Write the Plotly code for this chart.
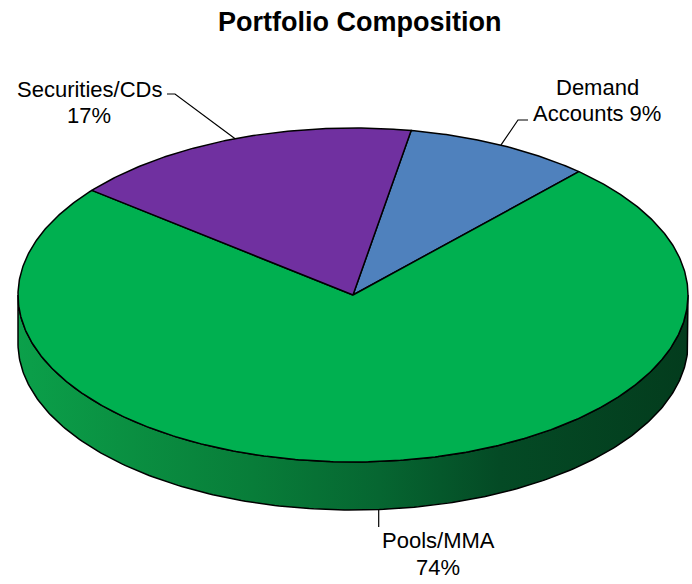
import numpy as np
import plotly.graph_objects as go

# ---- data ----
labels = ["Demand Accounts", "Pools/MMA", "Securities/CDs"]
values = [9, 74, 17]
label_lines = [["Demand", "Accounts {}%"], ["Pools/MMA", "{}%"], ["Securities/CDs", "{}%"]]
colors = ["#4F81BD", "#00B050", "#7030A0"]
title = "Portfolio Composition"

# ---- geometry / layout parameters ----
W, H = 692, 584
CX, CY = 353, 295
RX, RY = 335, 167
DEPTH = 48
START = 80.0  # degrees, slices proceed clockwise
FONT = "Liberation Sans, Arial, sans-serif"

# label placement: (text centre x, first line y, line gap, elbow point, end point)
label_pos = {
    "Demand Accounts": dict(x=597, y=87, gap=26, elbow=(518, 120), end=(528, 120)),
    "Pools/MMA": dict(x=438, y=540, gap=27, elbow=None, end=527),
    "Securities/CDs": dict(x=89, y=89, gap=26, elbow=(175, 94), end=(167, 94)),
}


def ept(t, dy=0.0):
    r = np.radians(t)
    return CX + RX * np.cos(r), CY - RY * np.sin(r) + dy


fig = go.Figure()

# side wall (front half)
t_side = np.linspace(180, 360, 241)
tx, ty = ept(t_side)
bx, by = ept(t_side[::-1], DEPTH)
fig.add_trace(go.Scatter(
    x=np.concatenate([tx, bx, tx[:1]]), y=np.concatenate([ty, by, ty[:1]]),
    mode="lines", fill="toself",
    fillgradient=dict(type="horizontal", colorscale=[
        [0.0, "#0ba04a"], [0.17, "#0a8f41"], [0.35, "#087d39"],
        [0.54, "#066631"], [0.72, "#044a25"], [1.0, "#033c1d"]]),
    line=dict(color="black", width=1.5), hoverinfo="skip", showlegend=False))

# top slices
total = float(sum(values))
a0 = START
mids = []
for lab, v, c in zip(labels, values, colors):
    a1 = a0 - v / total * 360.0
    ts = np.linspace(a0, a1, max(int(abs(a1 - a0)) * 2, 8))
    ax_, ay_ = ept(ts)
    xs = np.concatenate([[CX], ax_, [CX]])
    ys = np.concatenate([[CY], ay_, [CY]])
    fig.add_trace(go.Scatter(x=xs, y=ys, mode="lines", fill="toself", fillcolor=c,
                             line=dict(color="black", width=1.5), hoverinfo="skip",
                             name=lab, showlegend=False))
    mids.append((a0 + a1) / 2.0)
    a0 = a1

# labels + leader lines
for lab, v, lines, mid in zip(labels, values, label_lines, mids):
    p = label_pos[lab]
    mx, my = ept(mid)
    if np.sin(np.radians(mid)) < 0:
        my = my + DEPTH
    if p["elbow"] is None:
        lx, ly = [mx, mx], [my, p["end"]]
    else:
        lx = [mx, p["elbow"][0], p["end"][0]]
        ly = [my, p["elbow"][1], p["end"][1]]
    fig.add_trace(go.Scatter(x=lx, y=ly, mode="lines", line=dict(color="black", width=1.2),
                             hoverinfo="skip", showlegend=False))
    for i, ln in enumerate(lines):
        fig.add_annotation(x=p["x"], y=p["y"] + i * p["gap"], text=ln.format(v),
                           showarrow=False, xanchor="center", yanchor="middle",
                           font=dict(family=FONT, size=22, color="black"))

fig.add_annotation(x=359, y=22, text="<b>" + title + "</b>", showarrow=False,
                   xanchor="center", yanchor="middle",
                   font=dict(family=FONT, size=27, color="black"))

fig.update_layout(
    width=W, height=H, margin=dict(l=0, r=0, t=0, b=0),
    paper_bgcolor="white", plot_bgcolor="white",
    xaxis=dict(range=[0, W], visible=False, fixedrange=True),
    yaxis=dict(range=[H, 0], visible=False, fixedrange=True),
)

fig.write_html("out.html", config={"displayModeBar": False},
               post_script="document.body.style.margin='0';document.body.style.overflow='hidden';")
